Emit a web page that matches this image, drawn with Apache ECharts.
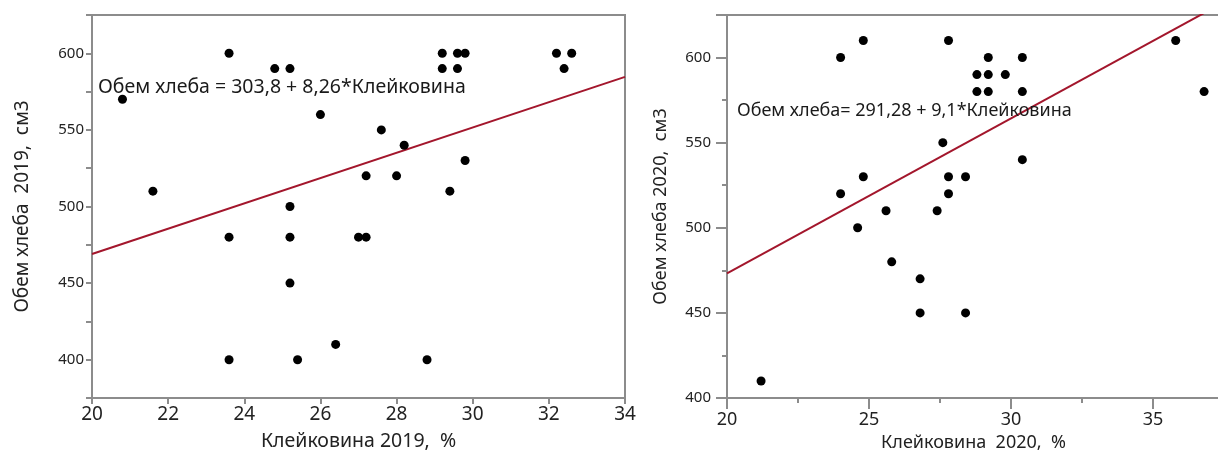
<!DOCTYPE html>
<html>
<head>
<meta charset="utf-8">
<script src="https://cdn.jsdelivr.net/npm/echarts@6/dist/echarts.min.js"></script>
<style>
  html, body { margin: 0; padding: 0; background: #ffffff; }
  #chart { width: 1218px; height: 455px; }
</style>
</head>
<body>
<div id="chart"></div>
<script>
// Gluten content (%) vs. bread volume (cm3), 2019 harvest
const gluten2019 = [20.8, 21.6, 23.6, 23.6, 23.6, 24.8, 25.2, 25.2, 25.2, 25.2, 25.4, 26.0, 26.4, 27.6, 27.0,
                    27.2, 27.2, 28.0, 28.2, 28.8, 29.2, 29.2, 29.6, 29.8, 29.6, 29.4, 29.8, 32.2, 32.6, 32.4];
const volume2019 = [570, 510, 600, 480, 400, 590, 590, 500, 480, 450, 400, 560, 410, 550, 480,
                    480, 520, 520, 540, 400, 600, 590, 600, 600, 590, 510, 530, 600, 600, 590];

// Same measurements, 2020 harvest
const gluten2020 = [24.0, 24.8, 27.8, 27.6, 24.8, 27.8, 24.0, 27.8, 25.6, 27.4, 24.6, 29.2, 30.4, 28.8,
                    29.2, 29.8, 28.8, 29.2, 30.4, 35.8, 36.8, 30.4, 28.4, 25.8, 26.8, 26.8, 21.2, 28.4];
const volume2020 = [600, 610, 610, 550, 530, 530, 520, 520, 510, 510, 500, 600, 600, 590,
                    590, 590, 580, 580, 580, 610, 580, 540, 530, 480, 470, 450, 410, 450];

// Fitted regression lines: volume = intercept + slope * gluten
const fit2019 = { intercept: 303.8, slope: 8.26 };
const fit2020 = { intercept: 291.28, slope: 9.1 };

const xRange2019 = [20, 34];
const xRange2020 = [20, 37.36];

const FONT = '"Noto Sans", "DejaVu Sans", sans-serif';
const AXIS_GREY = '#8c8c8c';
const TEXT = '#222222';

function pairs(xs, ys) { return xs.map((x, i) => [x, ys[i]]); }
function fitLine(fit, range) {
  return range.map(x => [x, fit.intercept + fit.slope * x]);
}

const chart = echarts.init(document.getElementById('chart'), null, { renderer: 'canvas' });

const axisLineStyle = { lineStyle: { color: AXIS_GREY, width: 2 } };
const dotStyle = { color: '#000000', opacity: 1 };

chart.setOption({
  animation: false,
  backgroundColor: '#ffffff',
  grid: [
    { left: 92, top: 15, width: 533, height: 383, outerBoundsMode: 'none',
      show: true, borderColor: AXIS_GREY, borderWidth: 2, backgroundColor: 'transparent' },
    // the right panel runs on past the page edge, so its right border is not seen
    { left: 727, top: 15, width: 493, height: 383, outerBoundsMode: 'none',
      show: true, borderColor: AXIS_GREY, borderWidth: 2, backgroundColor: 'transparent' }
  ],
  xAxis: [
    {
      gridIndex: 0, type: 'value', min: xRange2019[0], max: xRange2019[1], interval: 2,
      axisLine: axisLineStyle,
      axisTick: { show: true, length: 6, lineStyle: { color: AXIS_GREY, width: 2 } },
      splitLine: { show: false },
      axisLabel: { color: TEXT, fontFamily: FONT, fontSize: 19, margin: 7 },
      name: 'Клейковина 2019,  %', nameLocation: 'middle', nameGap: 33,
      nameTextStyle: { color: TEXT, fontFamily: FONT, fontSize: 19.5 }
    },
    {
      gridIndex: 1, type: 'value', min: xRange2020[0], max: xRange2020[1], interval: 5,
      axisLine: axisLineStyle,
      axisTick: { show: true, length: 11, lineStyle: { color: AXIS_GREY, width: 2 } },
      minorTick: { show: true, splitNumber: 2, length: 5, lineStyle: { color: AXIS_GREY, width: 2 } },
      splitLine: { show: false },
      axisLabel: { color: TEXT, fontFamily: FONT, fontSize: 18, margin: 13, showMaxLabel: false,
        formatter: v => (v % 5 === 0 ? String(v) : '') },
      name: 'Клейковина  2020,  %', nameLocation: 'middle', nameGap: 35,
      nameTextStyle: { color: TEXT, fontFamily: FONT, fontSize: 18 }
    }
  ],
  yAxis: [
    {
      gridIndex: 0, type: 'value', min: 375, max: 625, interval: 25,
      axisLine: axisLineStyle,
      axisTick: { show: true, length: 6, lineStyle: { color: AXIS_GREY, width: 2 } },
      splitLine: { show: false },
      axisLabel: { color: TEXT, fontFamily: FONT, fontSize: 15, margin: 8,
        formatter: v => (v % 50 === 0 ? String(v) : '') },
      name: 'Обем хлеба  2019,  см3', nameLocation: 'middle', nameGap: 60,
      nameTextStyle: { color: TEXT, fontFamily: FONT, fontSize: 19 }
    },
    {
      gridIndex: 1, type: 'value', min: 400, max: 625, interval: 50,
      axisLine: axisLineStyle,
      axisTick: { show: true, length: 11, lineStyle: { color: AXIS_GREY, width: 2 } },
      minorTick: { show: true, splitNumber: 2, length: 5, lineStyle: { color: AXIS_GREY, width: 2 } },
      splitLine: { show: false },
      axisLabel: { color: TEXT, fontFamily: FONT, fontSize: 15, margin: 16, showMaxLabel: false,
        formatter: v => (v % 50 === 0 ? String(v) : '') },
      name: 'Обем хлеба 2020,  см3', nameLocation: 'middle', nameGap: 57,
      nameTextStyle: { color: TEXT, fontFamily: FONT, fontSize: 18 }
    }
  ],
  series: [
    {
      type: 'scatter', xAxisIndex: 0, yAxisIndex: 0, symbol: 'circle', symbolSize: 9,
      itemStyle: dotStyle, data: pairs(gluten2019, volume2019), z: 3
    },
    {
      type: 'line', xAxisIndex: 0, yAxisIndex: 0, symbol: 'none', clip: true,
      lineStyle: { color: '#a3162c', width: 2 }, data: fitLine(fit2019, xRange2019), z: 2
    },
    {
      type: 'scatter', xAxisIndex: 1, yAxisIndex: 1, symbol: 'circle', symbolSize: 9,
      itemStyle: dotStyle, data: pairs(gluten2020, volume2020), z: 3
    },
    {
      type: 'line', xAxisIndex: 1, yAxisIndex: 1, symbol: 'none', clip: true,
      lineStyle: { color: '#a3162c', width: 2 }, data: fitLine(fit2020, xRange2020), z: 2
    }
  ],
  graphic: [
    {
      type: 'text', x: 98, y: 87, z: 10,
      style: { text: 'Обем хлеба = 303,8 + 8,26*Клейковина', fill: '#1a1a1a',
        font: '19.5px ' + FONT, verticalAlign: 'middle' }
    },
    {
      type: 'text', x: 737, y: 111, z: 10,
      style: { text: 'Обем хлеба= 291,28 + 9,1*Клейковина', fill: '#1a1a1a',
        font: '18px ' + FONT, verticalAlign: 'middle' }
    }
  ]
});
</script>
</body>
</html>
